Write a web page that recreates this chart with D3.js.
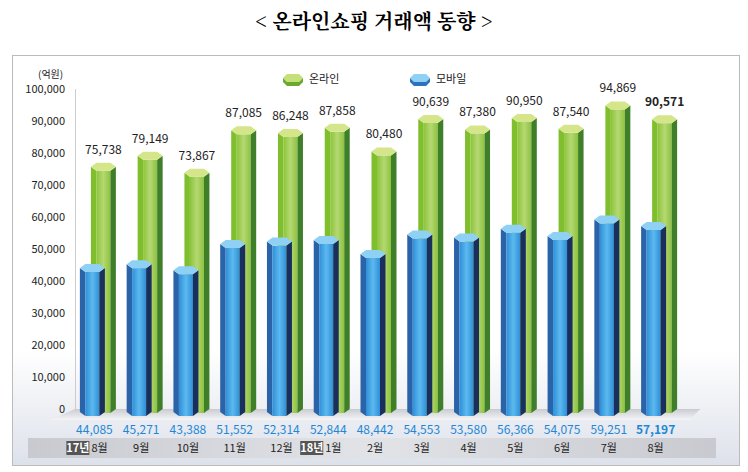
<!DOCTYPE html><html><head><meta charset="utf-8"><script src="https://cdn.jsdelivr.net/npm/d3@7"></script>
<style>body{margin:0;background:#fff}svg{font-family:"Noto Sans CJK KR","Noto Sans",sans-serif}</style></head><body>
<svg id="c" width="748" height="472"></svg>
<script>
const categories=["8월","9월","10월","11월","12월","1월","2월","3월","4월","5월","6월","7월","8월"];
const yearTags=["17년","","","","","18년","","","","","","",""];
const online=[75738,79149,73867,87085,86248,87858,80480,90639,87380,90950,87540,94869,90571];
const mobile=[44085,45271,43388,51552,52314,52844,48442,54553,53580,56366,54075,59251,57197];
const yTicks=[0,10000,20000,30000,40000,50000,60000,70000,80000,90000,100000];
const svg=d3.select("#c");
const defs=svg.append("defs");
function lg(id,stops,v){const g=defs.append("linearGradient").attr("id",id);if(v)g.attr("x2",0).attr("y2",1);stops.forEach(s=>g.append("stop").attr("offset",s[0]).attr("stop-color",s[1]));}
lg("bgG",[[0,"#fff"],[1,"#dde1ea"]],true);
lg("floorG",[[0,"#c9ccd2"],[1,"#f4f5f7"]],true);
lg("gFront",[[0,"#8cc43a"],[0.5,"#b5d873"],[1,"#8dc23e"]]);
lg("bFront",[[0,"#2f8fd8"],[0.5,"#5cb9ef"],[1,"#2f8fd8"]]);
lg("band",[[0,"#c8cad0"],[0.5,"#e2e3e7"],[1,"#c8cad0"]]);
svg.append("text").attr("x",374).attr("y",29).attr("text-anchor","middle").attr("font-size",20).attr("font-weight","bold").attr("font-family","'Noto Serif CJK KR','Noto Sans CJK KR',serif").text("< 온라인쇼핑 거래액 동향 >");
svg.append("rect").attr("x",12.5).attr("y",55.5).attr("width",727).attr("height",410).attr("fill","#fff").attr("stroke","#bbb");
svg.append("rect").attr("x",13).attr("y",350).attr("width",726).attr("height",115).attr("fill","url(#bgG)");
const y=d3.scaleLinear().domain([0,100000]).range([409,89]);
const x=d3.scaleBand().domain(d3.range(categories.length)).range([69,677]).padding(0);
// floor
svg.append("path").attr("d","M75,409 L700,409 L690,420 L50,420 Z").attr("fill","url(#floorG)");
svg.append("path").attr("d","M50,420 L40,431 L718,431 L700,409").attr("fill","none");
svg.append("line").attr("x1",75.5).attr("x2",75.5).attr("y1",89).attr("y2",409).attr("stroke","#ccc");
svg.append("line").attr("x1",75).attr("x2",700).attr("y1",409.5).attr("y2",409.5).attr("stroke","#ccc");
yTicks.forEach(t=>svg.append("text").attr("x",65).attr("y",y(t)+4).attr("text-anchor","end").attr("font-size",11).attr("fill","#222").text(d3.format(",")(t)));
svg.append("text").attr("x",38).attr("y",78).attr("font-size",10).attr("fill","#222").text("(억원)");
function prism(cx,top,bottom,w,cols,front){
  const g=svg.append("g"),a=w/2,s=w*0.22,h=4;
  g.append("path").attr("d",`M${cx-a},${top} L${cx-a+s},${top+h} L${cx-a+s},${bottom+h} L${cx-a},${bottom} Z`).attr("fill",cols[0]);
  g.append("rect").attr("x",cx-a+s).attr("y",top+h).attr("width",w-2*s).attr("height",bottom-top).attr("fill",front);
  g.append("path").attr("d",`M${cx+a-s},${top+h} L${cx+a},${top} L${cx+a},${bottom} L${cx+a-s},${bottom+h} Z`).attr("fill",cols[1]);
  g.append("path").attr("d",`M${cx-a},${top} L${cx-a+s},${top+h} L${cx+a-s},${top+h} L${cx+a},${top} L${cx+a-s},${top-h} L${cx-a+s},${top-h} Z`).attr("fill",cols[2]);
}
categories.forEach((c,i)=>{
  const cx=x(i)+x.bandwidth()/2;
  prism(cx+11,y(online[i]),409,25,["#7fbf2e","#3f7f2a","#d5e68a"],"url(#gFront)");
  prism(cx,y(mobile[i]),412,25,["#2a63a8","#1a2f5e","#8fd1f5"],"url(#bFront)");
  svg.append("text").attr("x",cx+11).attr("y",y(online[i])-13).attr("text-anchor","middle").attr("font-size",12).attr("font-weight",i==12?"bold":"normal").attr("fill","#222").text(d3.format(",")(online[i]));
  svg.append("text").attr("x",cx+2).attr("y",434).attr("text-anchor","middle").attr("font-size",12).attr("font-weight",i==12?"bold":"normal").attr("fill","#1e88d6").text(d3.format(",")(mobile[i]));
});
svg.append("rect").attr("x",28).attr("y",438).attr("width",688).attr("height",20).attr("fill","url(#band)");
categories.forEach((c,i)=>{
  const cx=x(i)+x.bandwidth()/2+2;
  if(yearTags[i]){
    svg.append("rect").attr("x",cx-28).attr("y",441).attr("width",23).attr("height",14).attr("fill","#555");
    svg.append("text").attr("x",cx-16.5).attr("y",452).attr("text-anchor","middle").attr("font-size",11).attr("font-weight","bold").attr("fill","#fff").text(yearTags[i]);
    svg.append("text").attr("x",cx-3).attr("y",452).attr("font-size",11).attr("fill","#222").text(c);
  } else svg.append("text").attr("x",cx).attr("y",452).attr("text-anchor","middle").attr("font-size",11).attr("fill","#222").text(c);
});
// legend
function leg(lx,cols,front,label){
  svg.append("path").attr("d",`M${lx},78 L${lx+4},74 L${lx+16},74 L${lx+20},78 L${lx+16},82 L${lx+4},82 Z`).attr("fill",cols[0]);
  svg.append("path").attr("d",`M${lx},78 L${lx+4},82 L${lx+16},82 L${lx+20},78 L${lx+20},82 L${lx+16},86 L${lx+4},86 L${lx},82 Z`).attr("fill",cols[1]);
  svg.append("text").attr("x",lx+26).attr("y",83).attr("font-size",11).attr("fill","#222").text(label);
}
leg(283,["#c5e07a","#6aa82e"],"",`온라인`);
leg(410,["#8fd1f5","#2a73c0"],"",`모바일`);
</script></body></html>
